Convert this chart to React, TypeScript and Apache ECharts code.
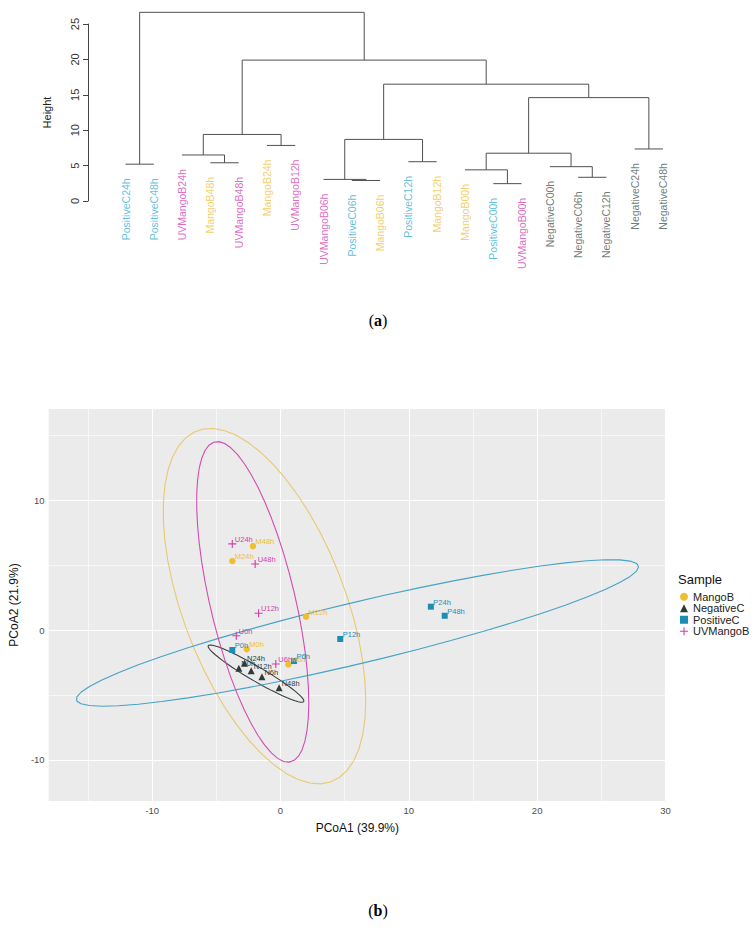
import React, { useEffect, useRef } from "react";
import * as echarts from "echarts";

// ---------------- (a) Dendrogram data ----------------
const leafLabels = [
  "PositiveC24h", "PositiveC48h", "UVMangoB24h", "MangoB48h", "UVMangoB48h",
  "MangoB24h", "UVMangoB12h", "UVMangoB06h", "PositiveC06h", "MangoB06h",
  "PositiveC12h", "MangoB12h", "MangoB00h", "PositiveC00h", "UVMangoB00h",
  "NegativeC00h", "NegativeC06h", "NegativeC12h", "NegativeC24h", "NegativeC48h",
];
// merge table (hclust style): negative = leaf position (1-based), positive = earlier merge
const mergeLeft = [-14, -9, -8, -17, -13, -16, -1, -4, -11, -3, 5, -19, -6, 3, 10, 11, 14, 15, 7];
const mergeRight = [-15, -10, 2, -18, 1, 4, -2, -5, -12, 8, 6, -20, -7, 9, 13, 12, 16, 17, 18];
const mergeHeight = [2.45, 2.9, 3.05, 3.35, 4.4, 4.85, 5.2, 5.4, 5.55, 6.5, 6.75, 7.35, 7.85, 8.7, 9.4, 14.6, 16.5, 19.9, 26.65];
const heightTicks = [0, 5, 10, 15, 20, 25];

// ---------------- (b) PCoA data ----------------
const groups = ["MangoB", "NegativeC", "PositiveC", "UVMangoB"];
const mangoLabels = ["M0h", "M6h", "M12h", "M24h", "M48h"];
const mangoX = [-2.62, 0.62, 2.0, -3.75, -2.14];
const mangoY = [-1.47, -2.65, 1.03, 5.32, 6.47];
const negLabels = ["N0h", "N6h", "N12h", "N24h", "N48h"];
const negX = [-3.24, -1.44, -2.28, -2.8, -0.1];
const negY = [-2.95, -3.6, -3.14, -2.57, -4.45];
const posLabels = ["P0h", "P6h", "P12h", "P24h", "P48h"];
const posX = [-3.75, 1.06, 4.66, 11.72, 12.8];
const posY = [-1.54, -2.39, -0.69, 1.8, 1.1];
const uvLabels = ["U0h", "U6h", "U12h", "U24h", "U48h"];
const uvX = [-3.44, -0.36, -1.7, -3.75, -1.97];
const uvY = [-0.44, -2.62, 1.29, 6.64, 5.09];

const xTicks = [-10, 0, 10, 20, 30];
const xMinorGrid = [-15, -5, 5, 15, 25];
const yTicks = [-10, 0, 10];
const yMinorGrid = [-5, 5, 15];
const X_MIN = -18.06, X_MAX = 30.04, Y_MIN = -13.18, Y_MAX = 17.04;

const FONT = "'Liberation Sans', Arial, Helvetica, sans-serif";

const pointColor: Record<string, string> = {
  MangoB: "#EEBE33",
  NegativeC: "#2F3B3B",
  PositiveC: "#1D8DB4",
  UVMangoB: "#D43EA9",
};
const ellipseColor: Record<string, string> = {
  MangoB: "#E8C871",
  NegativeC: "#3A3F3F",
  PositiveC: "#46A2C6",
  UVMangoB: "#D24CAF",
};
const leafColor: Record<string, string> = {
  MangoB: "#EFC443",
  NegativeC: "#4A5757",
  PositiveC: "#38AFD0",
  UVMangoB: "#D446B4",
};
const symbols: Record<string, string> = {
  MangoB: "circle",
  NegativeC: "triangle",
  PositiveC: "rect",
  UVMangoB: "path://M4.3,0H5.7V4.3H10V5.7H5.7V10H4.3V5.7H0V4.3H4.3Z",
};
const symbolSizes: Record<string, number> = { MangoB: 6.5, NegativeC: 7, PositiveC: 6, UVMangoB: 8 };

function groupOf(label: string): string {
  if (label.startsWith("UVMangoB")) return "UVMangoB";
  if (label.startsWith("MangoB")) return "MangoB";
  if (label.startsWith("PositiveC")) return "PositiveC";
  return "NegativeC";
}

// MASS::cov.trob (nu = 5) as used by ggplot2 stat_ellipse(type = "t")
function covTrob(pts: number[][]) {
  const n = pts.length;
  const p = 2, nu = 5;
  let loc = [pts.reduce((s, q) => s + q[0], 0) / n, pts.reduce((s, q) => s + q[1], 0) / n];
  let w = new Array(n).fill(1);
  let X = pts.map((q) => [q[0] - loc[0], q[1] - loc[1]]);
  for (let iter = 0; iter < 25; iter++) {
    const w0 = w.slice();
    X = pts.map((q) => [q[0] - loc[0], q[1] - loc[1]]);
    const sw = w.reduce((a, b) => a + b, 0);
    let a = 0, b = 0, c = 0;
    X.forEach((v, i) => {
      a += (w[i] / sw) * v[0] * v[0];
      b += (w[i] / sw) * v[0] * v[1];
      c += (w[i] / sw) * v[1] * v[1];
    });
    const det = a * c - b * b;
    const Q = X.map((v) => (c * v[0] * v[0] - 2 * b * v[0] * v[1] + a * v[1] * v[1]) / det);
    w = Q.map((q) => (nu + p) / (nu + q));
    const sw2 = w.reduce((s, v) => s + v, 0);
    loc = [
      pts.reduce((s, q, i) => s + w[i] * q[0], 0) / sw2,
      pts.reduce((s, q, i) => s + w[i] * q[1], 0) / sw2,
    ];
    if (w.every((v, i) => Math.abs(v - w0[i]) < 0.01)) break;
  }
  let s11 = 0, s12 = 0, s22 = 0;
  X.forEach((v, i) => {
    s11 += w[i] * v[0] * v[0];
    s12 += w[i] * v[0] * v[1];
    s22 += w[i] * v[1] * v[1];
  });
  return { center: loc, cov: [s11 / n, s12 / n, s22 / n] };
}

function ellipsePoints(xs: number[], ys: number[]) {
  const pts = xs.map((x, i) => [x, ys[i]]);
  const { center, cov } = covTrob(pts);
  const dfd = pts.length - 1;
  const fq = (dfd / 2) * (Math.pow(0.05, -2 / dfd) - 1); // qf(0.95, 2, dfd)
  const radius = Math.sqrt(2 * fq);
  const a = Math.sqrt(cov[0]);
  const b = cov[1] / a;
  const c = Math.sqrt(Math.max(cov[2] - b * b, 0));
  const seg = 51;
  const out: number[][] = [];
  for (let k = 0; k <= seg; k++) {
    const t = (k * 2 * Math.PI) / seg;
    out.push([center[0] + radius * a * Math.cos(t), center[1] + radius * (b * Math.cos(t) + c * Math.sin(t))]);
  }
  return out;
}

export default function App() {
  const ref = useRef<HTMLDivElement>(null);
  useEffect(() => {
    if (!ref.current) return;
    const chart = echarts.init(ref.current, undefined, { renderer: "svg" });

    // dendrogram geometry from merge table
    const nodeX: number[] = [];
    const nodeH: number[] = [];
    const leafParentH = new Array(leafLabels.length).fill(0);
    const segs: any[] = [];
    mergeLeft.forEach((l, i) => {
      const r = mergeRight[i];
      const h = mergeHeight[i];
      const xl = l < 0 ? -l : nodeX[l - 1];
      const xr = r < 0 ? -r : nodeX[r - 1];
      const hl = l < 0 ? h : nodeH[l - 1];
      const hr = r < 0 ? h : nodeH[r - 1];
      segs.push({ coords: [[xl, hl], [xl, h], [xr, h], [xr, hr]] });
      nodeX.push((xl + xr) / 2);
      nodeH.push(h);
      if (l < 0) leafParentH[-l - 1] = h;
      if (r < 0) leafParentH[-r - 1] = h;
    });
    const HANG = 2.0;
    const leafData = leafLabels.map((name, i) => ({
      name,
      value: [i + 1, leafParentH[i] - HANG],
      label: { color: leafColor[groupOf(name)] },
    }));

    const groupData: Record<string, { labels: string[]; xs: number[]; ys: number[] }> = {
      MangoB: { labels: mangoLabels, xs: mangoX, ys: mangoY },
      NegativeC: { labels: negLabels, xs: negX, ys: negY },
      PositiveC: { labels: posLabels, xs: posX, ys: posY },
      UVMangoB: { labels: uvLabels, xs: uvX, ys: uvY },
    };

    const gridLines: any[] = [];
    xMinorGrid.forEach((v) => gridLines.push({ coords: [[v, Y_MIN], [v, Y_MAX]], lineStyle: { width: 0.6 } }));
    yMinorGrid.forEach((v) => gridLines.push({ coords: [[X_MIN, v], [X_MAX, v]], lineStyle: { width: 0.6 } }));
    xTicks.forEach((v) => gridLines.push({ coords: [[v, Y_MIN], [v, Y_MAX]], lineStyle: { width: 1.1 } }));
    yTicks.forEach((v) => gridLines.push({ coords: [[X_MIN, v], [X_MAX, v]], lineStyle: { width: 1.1 } }));

    const ellipseSeries = groups.map((g) => ({
      type: "line",
      name: g + " ellipse",
      xAxisIndex: 1,
      yAxisIndex: 1,
      data: ellipsePoints(groupData[g].xs, groupData[g].ys),
      showSymbol: false,
      symbol: "none",
      lineStyle: { color: ellipseColor[g], width: 1.1 },
      z: 3,
      silent: true,
    }));

    const pointSeries = groups.map((g) => {
      const s = symbolSizes[g];
      return {
        type: "scatter",
        name: g,
        xAxisIndex: 1,
        yAxisIndex: 1,
        symbol: symbols[g],
        symbolSize: s,
        itemStyle: { color: pointColor[g], opacity: 1 },
        data: groupData[g].xs.map((x, i) => ({ name: groupData[g].labels[i], value: [x, groupData[g].ys[i]] })),
        label: {
          show: true,
          formatter: "{b}",
          position: [s / 2 + 2.5, s / 2 - 0.5],
          align: "left",
          verticalAlign: "bottom",
          fontSize: 7.5,
          fontFamily: FONT,
          color: pointColor[g],
        },
        labelLayout: { hideOverlap: false },
        z: 5,
      };
    });

    const serifFont = "'Liberation Serif', 'DejaVu Serif', serif";
    const panelLabel = (letter: string, y: number) => ({
      type: "text",
      x: 378,
      y,
      style: {
        text: "{p|(}{b|" + letter + "}{p|)}",
        align: "center",
        verticalAlign: "middle",
        rich: {
          p: { fontSize: 16, fontFamily: serifFont, fill: "#000" },
          b: { fontSize: 16, fontWeight: "bold", fontFamily: serifFont, fill: "#000" },
        },
      },
    });

    const option: any = {
      animation: false,
      backgroundColor: "#ffffff",
      textStyle: { fontFamily: FONT },
      grid: [
        { left: 125.5, right: 93, top: 24, bottom: 729, containLabel: false },
        { left: 42, right: 90, top: 409, bottom: 129, show: true, backgroundColor: "#EBEBEB", borderWidth: 0 },
      ],
      xAxis: [
        { gridIndex: 0, type: "value", min: 1, max: 20, show: false },
        {
          gridIndex: 1,
          type: "value",
          min: X_MIN,
          max: X_MAX,
          axisLine: { show: false },
          splitLine: { show: false },
          axisTick: { show: true, customValues: xTicks, length: 3, lineStyle: { color: "#333333", width: 1 } },
          axisLabel: { customValues: xTicks, fontSize: 9.5, color: "#4D4D4D", margin: 4, fontFamily: FONT },
          name: "PCoA1 (39.9%)",
          nameLocation: "middle",
          nameGap: 21,
          nameTextStyle: { fontSize: 12, color: "#111111", fontFamily: FONT },
        },
      ],
      yAxis: [
        {
          gridIndex: 0,
          type: "value",
          min: 0,
          max: 25,
          interval: 5,
          offset: 37.5,
          axisLine: { show: true, lineStyle: { color: "#444444", width: 1 } },
          axisTick: { show: true, length: 5, lineStyle: { color: "#444444" } },
          axisLabel: { rotate: 90, fontSize: 11, color: "#333333", margin: 8, fontFamily: FONT, customValues: heightTicks },
          splitLine: { show: false },
          name: "Height",
          nameLocation: "middle",
          nameRotate: 90,
          nameGap: 36,
          nameTextStyle: { fontSize: 11, color: "#222222", fontFamily: FONT },
        },
        {
          gridIndex: 1,
          type: "value",
          min: Y_MIN,
          max: Y_MAX,
          axisLine: { show: false },
          splitLine: { show: false },
          axisTick: { show: true, customValues: yTicks, length: 3, lineStyle: { color: "#333333", width: 1 } },
          axisLabel: { customValues: yTicks, fontSize: 9.5, color: "#4D4D4D", margin: 4, fontFamily: FONT },
          name: "PCoA2 (21.9%)",
          nameLocation: "middle",
          nameRotate: 90,
          nameGap: 21,
          nameTextStyle: { fontSize: 12, color: "#111111", fontFamily: FONT },
        },
      ],
      legend: {
        data: groups.map((g) => ({ name: g, icon: symbols[g] })),
        orient: "vertical",
        left: 680,
        top: 591,
        itemWidth: 8,
        itemHeight: 8,
        itemGap: 0,
        padding: 0,
        textStyle: { fontSize: 11, color: "#222222", lineHeight: 11.5, fontFamily: FONT },
        selectedMode: false,
      },
      graphic: [
        {
          type: "text",
          x: 678,
          y: 579,
          style: { text: "Sample", fontSize: 13, fill: "#111111", fontFamily: FONT, verticalAlign: "middle", align: "left" },
        },
        panelLabel("a", 320),
        panelLabel("b", 910),
      ],
      series: [
        {
          type: "lines",
          name: "dendrogram",
          coordinateSystem: "cartesian2d",
          xAxisIndex: 0,
          yAxisIndex: 0,
          polyline: true,
          clip: false,
          silent: true,
          data: segs,
          lineStyle: { color: "#505050", width: 1, opacity: 1 },
        },
        {
          type: "scatter",
          name: "leaves",
          xAxisIndex: 0,
          yAxisIndex: 0,
          symbolSize: 0,
          clip: false,
          silent: true,
          data: leafData,
          label: {
            show: true,
            formatter: "{b}",
            rotate: 90,
            position: [0, 0],
            align: "right",
            verticalAlign: "middle",
            fontSize: 10.5,
            fontFamily: FONT,
          },
        },
        {
          type: "lines",
          name: "gridlines",
          coordinateSystem: "cartesian2d",
          xAxisIndex: 1,
          yAxisIndex: 1,
          polyline: false,
          silent: true,
          z: 1,
          data: gridLines,
          lineStyle: { color: "#FFFFFF", opacity: 1 },
        },
        ...ellipseSeries,
        ...pointSeries,
      ],
    };
    chart.setOption(option);
    return () => chart.dispose();
  }, []);
  return <div ref={ref} style={{ position: "fixed", left: 0, top: 0, width: 756, height: 930 }} />;
}
